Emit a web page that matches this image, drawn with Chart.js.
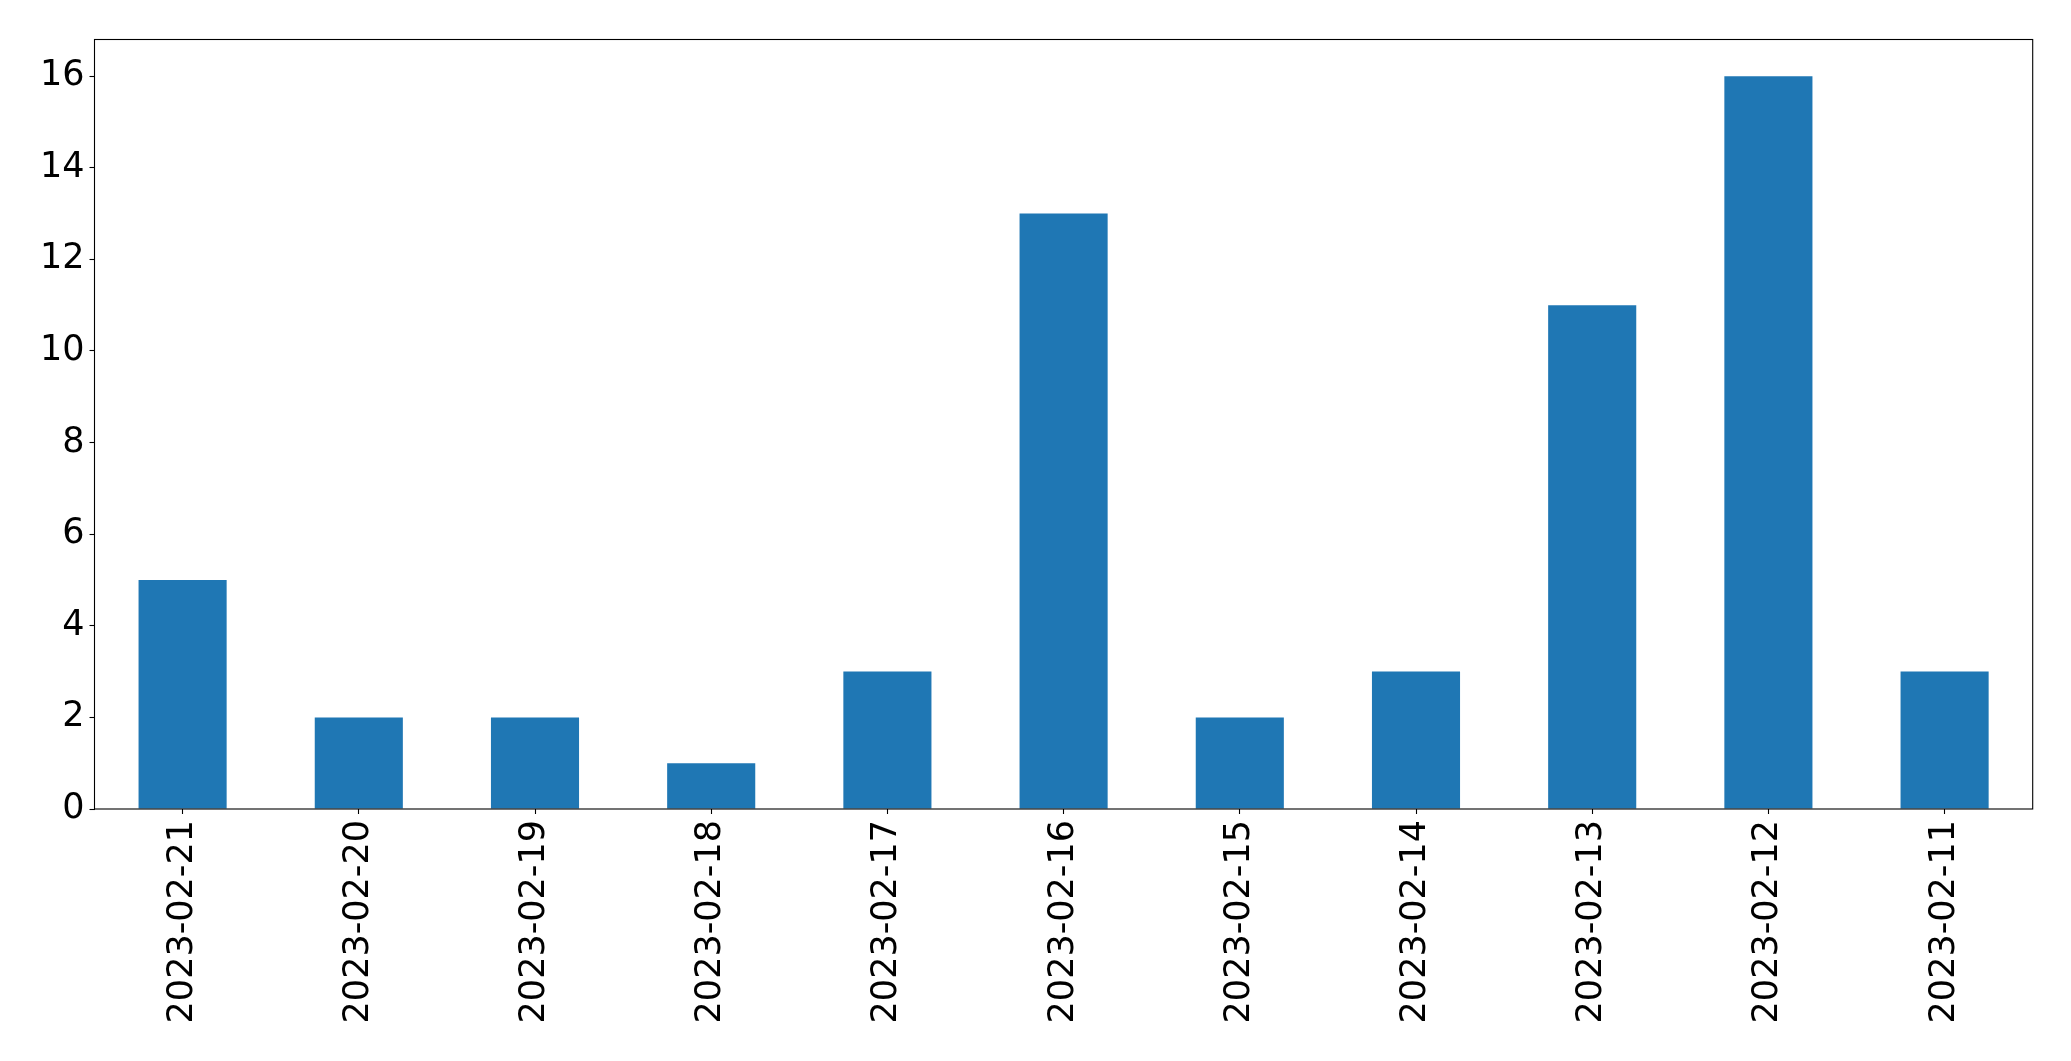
<!DOCTYPE html>
<html>
<head>
<meta charset="utf-8">
<script src="https://cdn.jsdelivr.net/npm/chart.js@4/dist/chart.umd.min.js"></script>
<style>
  html, body { margin: 0; padding: 0; background: #fff; }
  #wrap { width: 2071px; height: 1061px; }
</style>
</head>
<body>
<div id="wrap"><canvas id="chart"></canvas></div>
<script>
const dates = ["2023-02-21", "2023-02-20", "2023-02-19", "2023-02-18", "2023-02-17", "2023-02-16",
  "2023-02-15", "2023-02-14", "2023-02-13", "2023-02-12", "2023-02-11"];
const counts = [5, 2, 2, 1, 3, 13, 2, 3, 11, 16, 3];
const yTicks = [0, 2, 4, 6, 8, 10, 12, 14, 16];

const fontSpec = { family: "DejaVu Sans", size: 35 };

// box around the plot area, like a matplotlib axes frame
const frame = {
  id: "frame",
  afterDraw(chart) {
    const { ctx, chartArea: a } = chart;
    ctx.save();
    ctx.strokeStyle = "#000";
    ctx.lineWidth = 1.1;
    ctx.strokeRect(a.left, a.top, a.right - a.left, a.bottom - a.top);
    ctx.restore();
  },
};

new Chart(document.getElementById("chart"), {
  type: "bar",
  data: {
    labels: dates,
    datasets: [{
      data: counts,
      backgroundColor: "#1f77b4",
      barPercentage: 0.5,
      categoryPercentage: 1,
    }],
  },
  options: {
    responsive: true,
    maintainAspectRatio: false,
    animation: false,
    layout: { padding: { top: 39.5, right: 38.3, left: 0, bottom: 0 } },
    plugins: { legend: { display: false }, tooltip: { enabled: false } },
    scales: {
      x: {
        offset: true,
        grid: { offset: false, drawOnChartArea: false, tickLength: 5, color: "#000", tickWidth: 1.1 },
        border: { display: false },
        ticks: { color: "#000", font: fontSpec, minRotation: 90, maxRotation: 90, padding: 6, autoSkip: false },
        afterFit(scale) { scale.height = 252; },
      },
      y: {
        min: 0,
        max: 16.8,
        grid: { drawOnChartArea: false, tickLength: 5, color: "#000", tickWidth: 1.1 },
        border: { display: false },
        ticks: { color: "#000", font: fontSpec, stepSize: 2, padding: 5 },
        afterBuildTicks(scale) { scale.ticks = yTicks.map(v => ({ value: v })); },
        afterFit(scale) { scale.width = 94.5; },
      },
    },
  },
  plugins: [frame],
});
</script>
</body>
</html>
